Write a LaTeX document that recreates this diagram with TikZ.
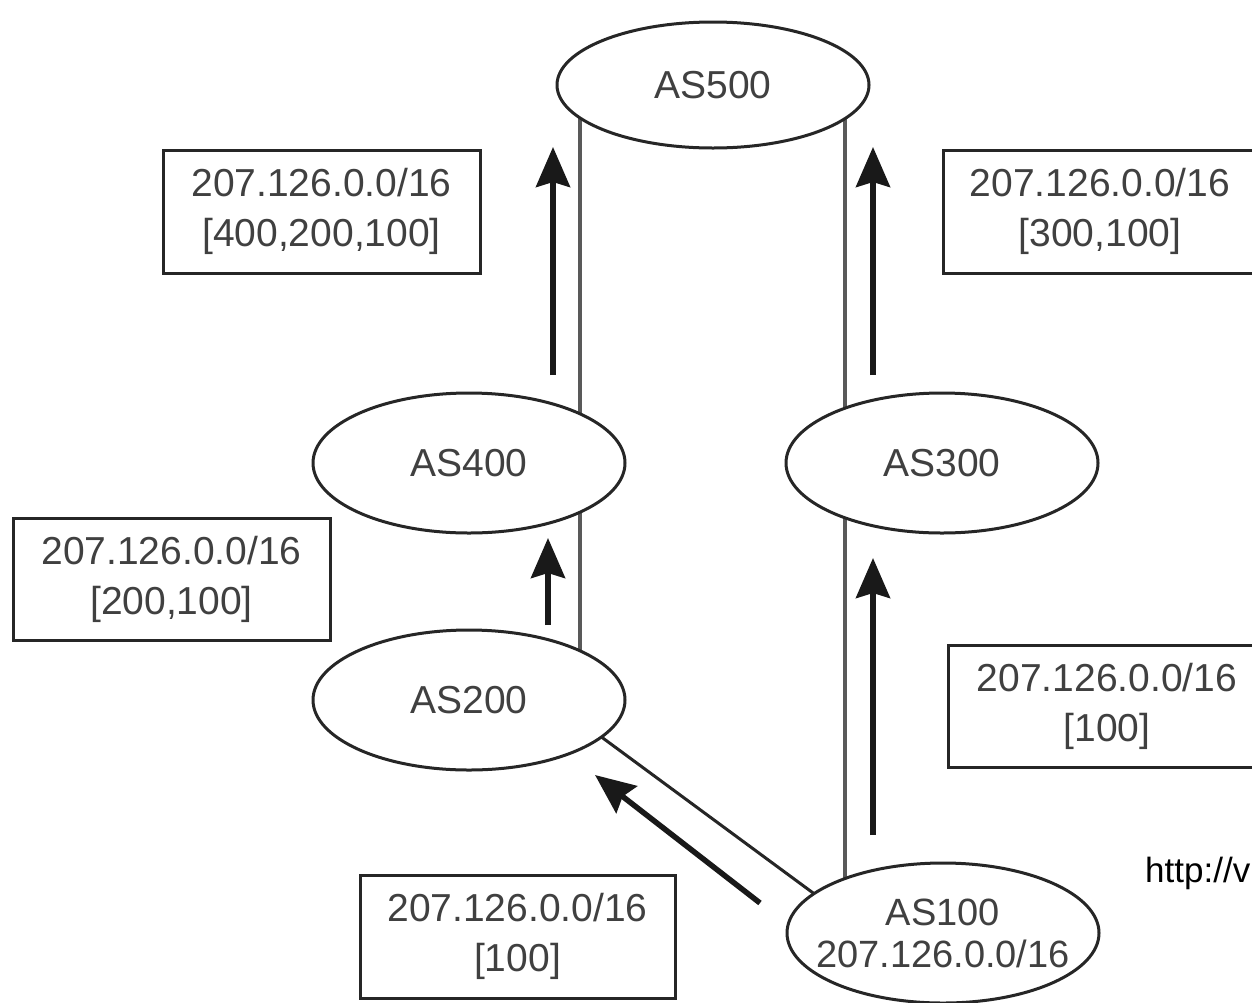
\documentclass[tikz,border=0pt]{standalone}
\usepackage{fontspec}
\setmainfont{Liberation Sans}
\usetikzlibrary{arrows.meta,calc,backgrounds,shapes.geometric}
\begin{document}
\begin{tikzpicture}[x=1pt,y=-1pt,
  asnode/.style={ellipse,draw=black!85,line width=3pt,fill=white,minimum width=312pt,minimum height=140pt,inner sep=0pt,text=black!75,font=\fontsize{39}{42}\selectfont,align=center},
  infobox/.style={rectangle,draw=black!85,line width=3pt,fill=white,minimum width=317pt,minimum height=123pt,inner sep=0pt,text=black!75,font=\fontsize{39}{50}\selectfont,align=center},
  link/.style={draw=black!65,line width=3.5pt},
  flow/.style={line width=5.5pt,draw=black!90,-{Stealth[length=40pt,width=34pt,inset=5pt]}}]
\useasboundingbox (0,0) rectangle (1252,1002);
\clip (0,0) rectangle (1252,1002);

% AS nodes
\node[asnode,minimum height=126pt] (as500) at (713,85) {AS500};
\node[asnode] (as400) at (469,463) {AS400};
\node[asnode] (as300) at (942,463) {AS300};
\node[asnode] (as200) at (469,700) {AS200};
\node[asnode,inner xsep=-20pt,font=\fontsize{38}{42}\selectfont] (as100) at (943,933) {AS100\\207.126.0.0/16};

% links
\begin{scope}[on background layer]
\draw[link] ($(as400.center)+(111,0)$) -- ($(as500.center)+(-133,0)$);
\draw[link] ($(as300.center)+(-97,0)$) -- ($(as500.center)+(132,0)$);
\draw[link] ($(as200.center)+(111,0)$) -- ($(as400.center)+(111,0)$);
\draw[link] ($(as100.center)+(-98,0)$) -- ($(as300.center)+(-97,0)$);
\draw[link,draw=black!85,line width=3pt] ($(as200.center)+(51,-23)$) -- ($(as100.center)+(-43,24)$);
\end{scope}

% info boxes
\node[infobox] (b1) at (321.5,211.5) {207.126.0.0/16\\{[400,200,100]}};
\node[infobox,minimum width=314pt] (b2) at (1100,211.5) {207.126.0.0/16\\{[300,100]}};
\node[infobox,minimum height=122pt] (b3) at (171.5,579) {207.126.0.0/16\\{[200,100]}};
\node[infobox,minimum width=318pt,minimum height=122pt] (b4) at (1107,706) {207.126.0.0/16\\{[100]}};
\node[infobox,minimum width=315pt] (b5) at (517.5,936.5) {207.126.0.0/16\\{[100]}};

% advertisement arrows
\coordinate (a1s) at (553,375); \coordinate (a1e) at (553,147);
\coordinate (a2s) at (873,375); \coordinate (a2e) at (873,147);
\coordinate (a3s) at (548,625); \coordinate (a3e) at (548,538);
\coordinate (a4s) at (873,835); \coordinate (a4e) at (873,558);
\coordinate (a5s) at (760,903); \coordinate (a5e) at (595,775);
\draw[flow] (a1s) -- (a1e);
\draw[flow] (a2s) -- (a2e);
\draw[flow] (a3s) -- (a3e);
\draw[flow] (a4s) -- (a4e);
\draw[flow] (a5s) -- (a5e);

\node[anchor=base west,inner sep=0pt,font=\fontsize{35}{35}\selectfont,text=black] (url) at (1145,882) {http://v};
\end{tikzpicture}
\end{document}
